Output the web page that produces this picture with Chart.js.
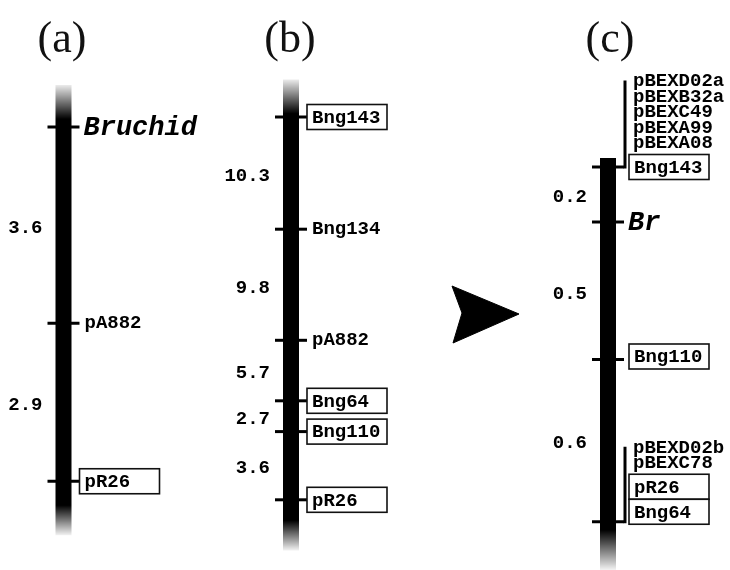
<!DOCTYPE html>
<html>
<head>
<meta charset="utf-8">
<script src="https://cdn.jsdelivr.net/npm/chart.js@4.4.1/dist/chart.umd.min.js"></script>
<style>
  html, body { margin: 0; padding: 0; background: #fff; }
  canvas { display: block; }
</style>
</head>
<body>
<canvas id="map" width="730" height="570"></canvas>
<script>
// Linkage map data (cM)
const titles = ['(a)', '(b)', '(c)'];

// (a)
const aMarkers = ['Bruchid', 'pA882', 'pR26'];
const aPos = [0, 3.6, 6.5];
const aIntervals = ['3.6', '2.9'];
const aEnds = [-0.77, 7.49];

// (b)
const bMarkers = ['Bng143', 'Bng134', 'pA882', 'Bng64', 'Bng110', 'pR26'];
const bPos = [0, 10.2, 20.3, 25.8, 28.6, 34.8];
const bIntervals = ['10.3', '9.8', '5.7', '2.7', '3.6'];
const bEnds = [-3.4, 39.4];

// (c)
const cMarkers = ['Bng143', 'Br', 'Bng110', 'Bng64'];
const cPos = [0, 0.2, 0.7, 1.29];
const cIntervals = ['0.2', '0.5', '0.6'];
const cCoseg = [
  ['pBEXD02a', 'pBEXB32a', 'pBEXC49', 'pBEXA99', 'pBEXA08'],
  [],
  [],
  ['pBEXD02b', 'pBEXC78', 'pR26'],
];
const cEnds = [-0.033, 1.465];

const boxedMarkers = ['pR26', 'Bng143', 'Bng64', 'Bng110'];
const italicMarkers = ['Bruchid', 'Br'];

// arrow between (b) and (c), page coordinates
const arrowX = [452, 519, 453, 462, 452];
const arrowY = [286, 314, 343, 313, 286];

const W = 730, H = 570;
const MONO = "'Liberation Mono', 'DejaVu Sans Mono', monospace";

const panels = [
  { axis: 'yA', x: 63.5, ppu: 54.5, zero: 127, titleX: 62, markers: aMarkers, pos: aPos,
    intervals: aIntervals, ends: aEnds, coseg: [], fadeTop: 34, fadeBottom: 30, boxGap: 16, shift: [] },
  { axis: 'yB', x: 291, ppu: 11, zero: 117, titleX: 290, markers: bMarkers, pos: bPos,
    intervals: bIntervals, ends: bEnds, coseg: [], fadeTop: 34, fadeBottom: 30, boxGap: 16, shift: [] },
  { axis: 'yC', x: 608, ppu: 275, zero: 167, titleX: 610, markers: cMarkers, pos: cPos,
    intervals: cIntervals, ends: cEnds, coseg: cCoseg, fadeTop: 0, fadeBottom: 40, boxGap: 21, shift: [0, 0, -3, -10] },
];

function chromGradient(chart, p) {
  const area = chart.chartArea;
  if (!area) return '#000';
  const sc = chart.scales[p.axis];
  const top = sc.getPixelForValue(p.ends[0]);
  const bot = sc.getPixelForValue(p.ends[1]);
  const len = bot - top;
  const g = chart.ctx.createLinearGradient(0, top, 0, bot);
  if (p.fadeTop) {
    g.addColorStop(0, 'rgba(0,0,0,0.08)');
    g.addColorStop(p.fadeTop / len, '#000');
  } else {
    g.addColorStop(0, '#000');
  }
  g.addColorStop(1 - p.fadeBottom / len, '#000');
  g.addColorStop(1, 'rgba(0,0,0,0.05)');
  return g;
}

const datasets = [];
const scales = {
  x: { type: 'linear', min: 0, max: W, display: false },
  yPage: { type: 'linear', min: 0, max: H, reverse: true, display: false },
};

panels.forEach((p) => {
  scales[p.axis] = {
    type: 'linear', reverse: true, display: false,
    min: -p.zero / p.ppu, max: (H - p.zero) / p.ppu,
  };
  // marker ticks
  datasets.push({
    yAxisID: p.axis, order: 0, showLine: false,
    data: p.pos.map((v) => ({ x: p.x, y: v })),
    pointStyle: 'line', pointRadius: 16, pointBorderWidth: 3,
    pointBorderColor: '#000', borderColor: '#000',
  });
  // chromosome bar
  datasets.push({
    yAxisID: p.axis, order: 1, pointRadius: 0, borderWidth: 16, borderCapStyle: 'butt',
    data: p.ends.map((v) => ({ x: p.x, y: v })),
    borderColor: (c) => chromGradient(c.chart, p),
  });
});

datasets.push({
  yAxisID: 'yPage', order: 0, pointRadius: 0, borderWidth: 1, tension: 0,
  data: arrowX.map((x, i) => ({ x, y: arrowY[i] })),
  borderColor: '#000', backgroundColor: '#000', fill: 'shape',
});

function drawBox(ctx, left, cy, text) {
  ctx.lineWidth = 1.6;
  ctx.strokeStyle = '#111';
  ctx.strokeRect(left, cy - 12.5, 80, 25);
  ctx.fillText(text, left + 5, cy + 1);
}

const mapLabels = {
  id: 'mapLabels',
  afterDatasetsDraw(chart) {
    const ctx = chart.ctx;
    ctx.save();
    ctx.fillStyle = '#111';
    ctx.font = "44px 'Liberation Serif', serif";
    ctx.textAlign = 'center';
    ctx.textBaseline = 'alphabetic';
    panels.forEach((p, i) => ctx.fillText(titles[i], p.titleX, 52));

    panels.forEach((p) => {
      const sc = chart.scales[p.axis];
      const ys = p.pos.map((v) => sc.getPixelForValue(v));
      ctx.fillStyle = '#000';
      ctx.textBaseline = 'middle';

      // interval distances
      ctx.font = 'bold 19px ' + MONO;
      ctx.textAlign = 'right';
      p.intervals.forEach((t, i) => ctx.fillText(t, p.x - 21, (ys[i] + ys[i + 1]) / 2 + 3));

      ctx.textAlign = 'left';
      p.markers.forEach((m, i) => {
        const y = ys[i];
        const boxLeft = p.x + p.boxGap;
        const co = p.coseg[i] || [];
        if (italicMarkers.includes(m)) {
          ctx.font = 'italic bold 27px ' + MONO;
          ctx.fillText(m, p.x + 20, y + 1);
          return;
        }
        ctx.font = 'bold 19px ' + MONO;
        // stack from the bottom: the marker itself, then co-segregating markers above
        const stack = [...co, m].reverse();
        let lastTop = null;
        let lastBoxed = false;
        let topLabel = y;
        stack.forEach((name) => {
          let cy;
          if (boxedMarkers.includes(name)) {
            cy = lastTop === null ? y + (p.shift[i] || 0) : lastTop - 12.5;
            drawBox(ctx, boxLeft, cy, name);
            lastTop = cy - 12.5;
            lastBoxed = true;
          } else {
            cy = lastTop === null ? y : lastTop - (lastBoxed ? 11 : 15.5);
            ctx.fillText(name, co.length ? boxLeft + 4 : p.x + 21, cy);
            lastTop = cy;
            lastBoxed = false;
          }
          topLabel = cy;
        });
        if (co.length) {
          ctx.lineWidth = 3;
          ctx.strokeStyle = '#000';
          ctx.beginPath();
          ctx.moveTo(p.x + 17, y + 1.5);
          ctx.lineTo(p.x + 17, topLabel - 1);
          ctx.stroke();
        }
      });
    });
    ctx.restore();
  },
};

new Chart(document.getElementById('map'), {
  type: 'line',
  data: { datasets },
  options: {
    responsive: false,
    devicePixelRatio: 1,
    animation: false,
    events: [],
    layout: { padding: 0, autoPadding: false },
    scales,
    plugins: { legend: { display: false }, tooltip: { enabled: false } },
  },
  plugins: [mapLabels],
});
</script>
</body>
</html>
